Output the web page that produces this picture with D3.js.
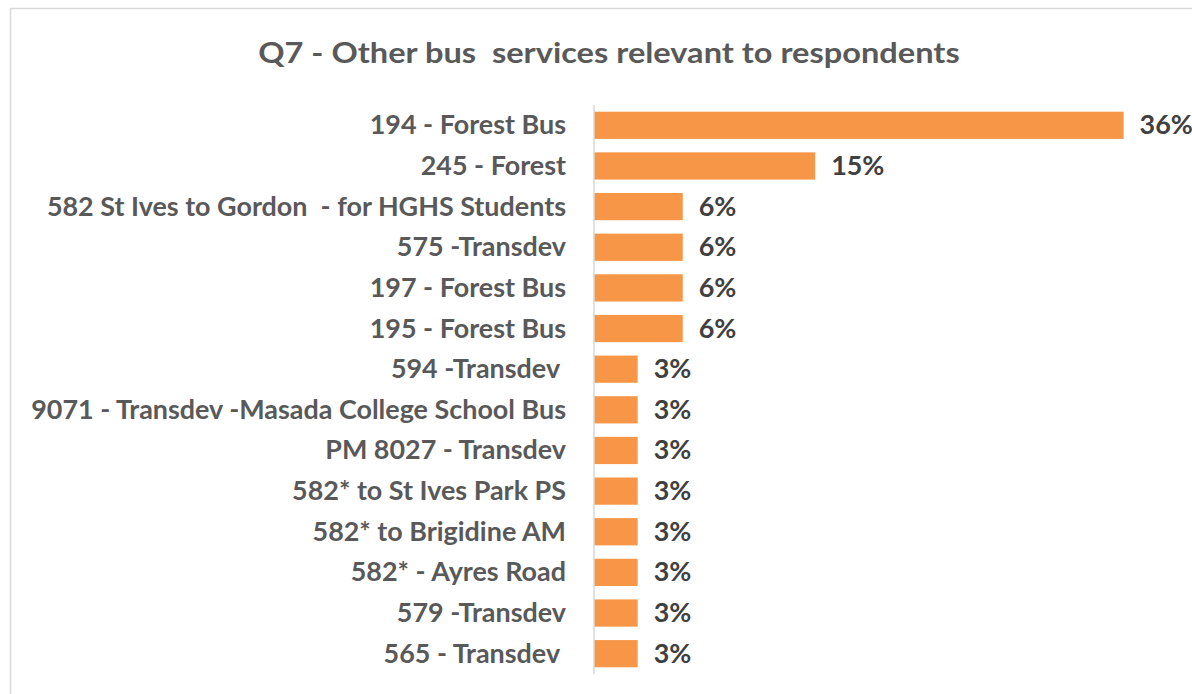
<!DOCTYPE html>
<html>
<head>
<meta charset="utf-8">
<script src="https://cdn.jsdelivr.net/npm/d3@7"></script>
<style>
  html, body { margin: 0; padding: 0; background: #ffffff; }
  text { font-family: Lato, "Open Sans", sans-serif; font-weight: 700; white-space: pre; }
</style>
</head>
<body>
<script>
const titleText = "Q7 - Other bus  services relevant to respondents";

const services = [
    "194 - Forest Bus",
    "245 - Forest",
    "582 St Ives to Gordon  - for HGHS Students",
    "575 -Transdev",
    "197 - Forest Bus",
    "195 - Forest Bus",
    "594 -Transdev ",
    "9071 - Transdev -Masada College School Bus",
    "PM 8027 - Transdev",
    "582* to St Ives Park PS",
    "582* to Brigidine AM",
    "582* - Ayres Road",
    "579 -Transdev",
    "565 - Transdev "
];

const shares = [36.4, 15.2, 6.1, 6.1, 6.1, 6.1, 3.0, 3.0, 3.0, 3.0, 3.0, 3.0, 3.0, 3.0];

const svgWidth = 1192;
const svgHeight = 694;
const axisX = 594;

const svg = d3.select("body")
    .append("svg")
    .attr("width", svgWidth)
    .attr("height", svgHeight);

// chart frame (runs off the right and bottom edge in the reference)
svg.append("rect")
    .attr("x", 10.5)
    .attr("y", 8.5)
    .attr("width", 1220)
    .attr("height", 720)
    .style("fill", "#ffffff")
    .style("stroke", "#d9d9d9")
    .style("stroke-width", 1.5);

const x = d3.scaleLinear()
    .domain([0, 40])
    .range([axisX, axisX + 582]);

const y = d3.scaleBand()
    .domain(services)
    .range([105, 674])
    .paddingInner(0.33)
    .paddingOuter(0.165);

const data = services.map((s, i) => ({ name: s, value: shares[i] }));

svg.selectAll("rect.bar")
    .data(data)
    .enter()
    .append("rect")
    .attr("class", "bar")
    .attr("x", x(0))
    .attr("y", d => y(d.name))
    .attr("width", d => x(d.value) - x(0))
    .attr("height", y.bandwidth())
    .style("fill", "#F79646");

// vertical category axis line
svg.append("line")
    .attr("x1", axisX)
    .attr("x2", axisX)
    .attr("y1", 105)
    .attr("y2", 674)
    .style("stroke", "#d9d9d9")
    .style("stroke-width", 1.5);

// the source font is narrow (Calibri, stretched), so squeeze text horizontally
function squeeze(sel, targetWidth, refNode) {
    const w = refNode.getComputedTextLength();
    return targetWidth / w;
}

const catLabels = svg.selectAll("text.cat")
    .data(data)
    .enter()
    .append("text")
    .attr("class", "cat")
    .attr("text-anchor", "end")
    .style("font-size", "26px")
    .style("fill", "#595959")
    .text(d => d.name);

const longest = catLabels.filter(d => d.name.startsWith("9071")).node();
const sx = squeeze(catLabels, 535, longest);

catLabels.attr("transform", d => `translate(${axisX - 28},${y(d.name) + y.bandwidth() / 2 + 9}) scale(${sx},1)`);

const fmt = d3.format(".0f");

svg.selectAll("text.val")
    .data(data)
    .enter()
    .append("text")
    .attr("class", "val")
    .style("font-size", "26px")
    .style("fill", "#404040")
    .attr("transform", d => `translate(${x(d.value) + 16},${y(d.name) + y.bandwidth() / 2 + 9}) scale(${sx},1)`)
    .text(d => fmt(d.value) + "%");

const title = svg.append("text")
    .attr("text-anchor", "middle")
    .style("font-size", "28px")
    .style("fill", "#595959")
    .text(titleText);

const tsx = squeeze(title, 702, title.node());
title.attr("transform", `translate(609,63) scale(${tsx},1)`);
</script>
</body>
</html>
